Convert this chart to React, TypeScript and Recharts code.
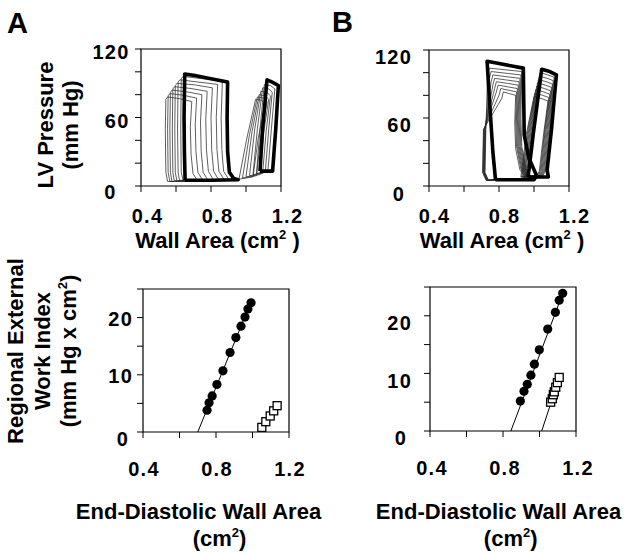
import React from 'react';
import { ComposedChart, Line, Scatter, XAxis, YAxis, ReferenceArea } from 'recharts';

type P = [number, number];

// ---------- axis ticks ----------
const areaTicks = [0.4, 0.6, 0.8, 1.0, 1.2];
const areaTickLabels = ['0.4', '', '0.8', '', '1.2'];
const pressureTicks = [0, 20, 40, 60, 80, 100, 120];
const pressureTickLabels = ['0', '', '', '60', '', '', '120'];
const workTicks = [0, 5, 10, 15, 20, 25];
const workTickLabels = ['0', '', '10', '', '20', ''];

// ---------- Panel A, pressure-area loops ----------
const loopA_left_bold: P[] = [[0.652,5],[0.648,30],[0.646,60],[0.650,98],[0.70,97],[0.80,94],[0.895,91],[0.892,60],[0.895,30],[0.905,12],[0.93,6.5],[0.955,5.5],[0.80,5],[0.652,5]];
const loopsA_left_thin: P[][] = [
  [[0.64,5],[0.630,12],[0.627,50],[0.630,94],[0.64,96],[0.75,94],[0.865,92],[0.858,60],[0.862,32],[0.872,13],[0.90,6],[0.64,5]],
  [[0.62,5],[0.612,12],[0.609,50],[0.612,91],[0.622,93],[0.73,91],[0.838,89],[0.830,60],[0.834,32],[0.845,13],[0.875,5.5],[0.62,5]],
  [[0.605,4.5],[0.596,12],[0.593,50],[0.596,88],[0.606,90],[0.71,88.5],[0.808,86],[0.800,60],[0.804,32],[0.815,13],[0.845,5],[0.605,4.5]],
  [[0.59,4.5],[0.582,12],[0.579,50],[0.582,85],[0.592,87],[0.68,85.5],[0.778,83],[0.770,58],[0.774,32],[0.785,13],[0.815,5],[0.59,4.5]],
  [[0.577,4],[0.568,12],[0.565,50],[0.568,82],[0.578,84],[0.66,82.5],[0.748,80],[0.740,56],[0.744,30],[0.755,12],[0.785,4.5],[0.577,4]],
  [[0.565,4],[0.555,12],[0.552,50],[0.555,79],[0.565,81],[0.64,79.5],[0.718,77],[0.710,54],[0.714,30],[0.725,12],[0.755,4.5],[0.565,4]],
  [[0.552,4],[0.542,12],[0.539,50],[0.542,76],[0.552,78],[0.62,76.5],[0.690,74],[0.682,52],[0.686,28],[0.697,11],[0.725,4],[0.552,4]],
];
const loopA_right_bold: P[] = [[1.08,13],[1.095,50],[1.12,93],[1.15,91],[1.185,88],[1.17,50],[1.152,13],[1.08,13]];
const loopsA_right_thin: P[][] = [
  [[1.06,11],[1.08,50],[1.105,89],[1.14,88],[1.165,85],[1.145,50],[1.125,13],[1.06,11]],
  [[1.04,10],[1.065,50],[1.095,86],[1.13,85],[1.15,82],[1.13,50],[1.11,12],[1.04,10]],
  [[1.02,9],[1.05,50],[1.085,83],[1.12,82],[1.14,79],[1.115,48],[1.095,11],[1.02,9]],
  [[1.00,8],[1.035,48],[1.075,80],[1.11,79],[1.13,76],[1.10,46],[1.08,10],[1.00,8]],
  [[0.98,7],[1.02,45],[1.065,78],[1.10,77],[1.12,74],[1.085,44],[1.06,9],[0.98,7]],
  [[0.96,6],[1.005,42],[1.055,76],[1.09,75],[1.11,72],[1.07,42],[1.04,8],[0.96,6]],
];

// ---------- Panel B, pressure-area loops ----------
const loopB_left_bold: P[] = [[0.78,5.5],[0.765,30],[0.748,70],[0.732,110],[0.80,108],[0.939,104],[0.942,70],[0.944,45],[0.97,25],[1.015,9],[1.0,5.5],[0.78,5.5]];
const loopsB_left_thin: P[][] = [
  [[0.74,5],[0.72,12],[0.725,50],[0.735,98],[0.745,104],[0.84,102.5],[0.93,101],[0.925,60],[0.93,35],[0.955,15],[0.99,7],[0.74,5]],
  [[0.738,5],[0.718,12],[0.723,50],[0.745,95],[0.755,101],[0.84,99.5],[0.925,98],[0.92,60],[0.925,35],[0.95,15],[0.985,7],[0.738,5]],
  [[0.736,5],[0.716,12],[0.721,50],[0.755,92],[0.765,98],[0.84,96.5],[0.92,95],[0.915,60],[0.92,35],[0.945,15],[0.98,7],[0.736,5]],
  [[0.734,5],[0.714,12],[0.719,50],[0.765,89],[0.775,95],[0.845,93.5],[0.915,92],[0.91,60],[0.915,35],[0.94,15],[0.975,7],[0.734,5]],
  [[0.732,5],[0.712,12],[0.717,50],[0.775,86],[0.785,92],[0.85,90.5],[0.91,89],[0.905,60],[0.91,35],[0.935,15],[0.97,7],[0.732,5]],
  [[0.73,5],[0.71,12],[0.715,50],[0.785,83],[0.795,89],[0.85,87.5],[0.905,86],[0.9,60],[0.905,35],[0.93,15],[0.965,7],[0.73,5]],
  [[0.728,5],[0.708,12],[0.713,50],[0.80,80],[0.81,86],[0.855,84.5],[0.9,83],[0.895,58],[0.9,35],[0.925,15],[0.96,7],[0.728,5]],
  [[0.726,5],[0.706,12],[0.711,50],[0.815,77],[0.825,83],[0.86,81.5],[0.895,80],[0.89,56],[0.895,33],[0.92,14],[0.955,7],[0.726,5]],
];
const loopB_right_bold: P[] = [[0.965,8],[0.972,15],[0.996,46],[1.044,103],[1.09,101],[1.128,98],[1.10,50],[1.075,14],[1.082,8],[0.965,8]];
const loopsB_right_thin: P[][] = [
  [[0.96,8],[0.99,45],[1.035,100],[1.08,98],[1.115,96],[1.09,50],[1.065,13],[1.05,9],[0.96,8]],
  [[0.955,8],[0.985,45],[1.03,97],[1.075,95],[1.11,93],[1.085,50],[1.06,13],[1.045,9],[0.955,8]],
  [[0.95,8],[0.98,45],[1.025,94],[1.07,92],[1.105,90],[1.08,50],[1.055,13],[1.04,9],[0.95,8]],
  [[0.945,8],[0.975,45],[1.02,91],[1.065,89],[1.10,87],[1.075,50],[1.05,13],[1.035,9],[0.945,8]],
  [[0.94,8],[0.97,45],[1.015,88],[1.06,86],[1.095,84],[1.07,50],[1.045,13],[1.03,9],[0.94,8]],
  [[0.935,8],[0.965,45],[1.01,85],[1.055,83],[1.09,81],[1.065,50],[1.04,13],[1.025,9],[0.935,8]],
  [[0.93,8],[0.96,45],[1.005,82],[1.05,80],[1.085,78],[1.06,48],[1.035,13],[1.02,9],[0.93,8]],
  [[0.925,8],[0.955,45],[1.0,79],[1.045,77],[1.08,75],[1.055,46],[1.03,13],[1.015,9],[0.925,8]],
];

// ---------- Regional external work index vs end-diastolic wall area ----------
const circlesA: P[] = [[0.751,3.8],[0.762,5.1],[0.779,6.3],[0.805,8.3],[0.838,10.7],[0.877,13.9],[0.909,16.5],[0.937,18.5],[0.959,20.1],[0.975,21.5],[0.992,22.6]];
const squaresA: P[] = [[1.051,0.8],[1.073,1.8],[1.097,2.8],[1.116,3.7],[1.135,4.6]];
const fitCirclesA: P[] = [[0.70,0],[0.995,23]];
const fitSquaresA: P[] = [[1.035,0],[1.135,4.6]];

const circlesB: P[] = [[0.895,5.2],[0.915,6.9],[0.933,8.1],[0.953,9.7],[0.972,11.6],[0.999,14.1],[1.045,17.7],[1.087,20.6],[1.108,22.7],[1.127,23.9]];
const squaresB: P[] = [[1.061,5.0],[1.070,5.6],[1.076,6.3],[1.081,6.8],[1.089,7.6],[1.098,8.4],[1.108,9.3]];
const fitCirclesB: P[] = [[0.843,0],[1.13,24.1]];
const fitSquaresB: P[] = [[1.012,0],[1.11,9.4]];

const toXY = (pts: P[]) => pts.map(([x, y]) => ({ x, y }));

const FONT = '"Liberation Sans", Arial, Helvetica, sans-serif';
const tickStyle: React.CSSProperties = { fontFamily: FONT, fontWeight: 700, fontSize: 20, letterSpacing: 1.2 };

const makeXTick = (dx: number) => (props: any) => {
  const { x, y, payload } = props;
  const i = areaTicks.indexOf(payload.value);
  const label = i >= 0 ? areaTickLabels[i] : '';
  return (
    <text x={x + dx} y={y} dy="0.71em" textAnchor="middle" fill="#000" style={tickStyle}>
      {label}
    </text>
  );
};

const makeYTick = (ticks: number[], labels: string[], dy: number, zeroDx: number, zeroDy: number) => (props: any) => {
  const { x, y, payload } = props;
  const i = ticks.indexOf(payload.value);
  const label = i >= 0 ? labels[i] : '';
  const isZero = payload.value === 0;
  return (
    <text x={x + (isZero ? zeroDx : 0)} y={y + (isZero ? zeroDy : dy)} dy="0.355em" textAnchor="end" fill="#000" style={tickStyle}>
      {label}
    </text>
  );
};

const thin = (loops: P[][], prefix: string) =>
  loops.map((l, i) => (
    <Line key={prefix + i} data={toXY(l)} dataKey="y" type="linear" stroke="#2a2a2a" strokeWidth={0.75} dot={false} isAnimationActive={false} />
  ));

const bold = (l: P[], key: string) => (
  <Line key={key} data={toXY(l)} dataKey="y" type="linear" stroke="#000" strokeWidth={3.6} strokeLinejoin="round" dot={false} isAnimationActive={false} />
);

const Circle = (p: any) => <circle cx={p.cx} cy={p.cy} r={4.6} fill="#000" />;
const Square = (p: any) => <rect x={p.cx - 4} y={p.cy - 4} width={8} height={8} fill="#fff" stroke="#000" strokeWidth={1.3} />;

type PanelProps = {
  left: number; top: number; width: number; height: number;
  margin: { top: number; right: number; bottom: number; left: number };
  yMax: number; yTicks: number[]; yLabels: string[];
  xDx: number; xTickMargin: number; yTickMargin: number; yDy: number; zeroDx: number; zeroDy: number;
  children: React.ReactNode;
};

const Panel = (p: PanelProps) => (
  <div style={{ position: 'absolute', left: p.left, top: p.top }}>
    <ComposedChart width={p.width} height={p.height} margin={p.margin}>
      <XAxis type="number" dataKey="x" domain={[0.4, 1.2]} ticks={areaTicks} interval={0} allowDataOverflow
        axisLine={false} tickLine={{ stroke: '#000', strokeWidth: 1 }} tickSize={6} tickMargin={p.xTickMargin}
        height={30} tick={makeXTick(p.xDx)} />
      <YAxis type="number" dataKey="y" domain={[0, p.yMax]} ticks={p.yTicks} interval={0} allowDataOverflow
        axisLine={false} tickLine={{ stroke: '#000', strokeWidth: 1 }} tickSize={6} tickMargin={p.yTickMargin}
        width={40} tick={makeYTick(p.yTicks, p.yLabels, p.yDy, p.zeroDx, p.zeroDy)} />
      <ReferenceArea x1={0.4} x2={1.2} y1={0} y2={p.yMax} fill="#fff" fillOpacity={0} stroke="#000" strokeWidth={1.2} />
      {p.children}
    </ComposedChart>
  </div>
);

const titleStyle: React.CSSProperties = { position: 'absolute', fontFamily: FONT, fontWeight: 700, fontSize: 22, color: '#000', whiteSpace: 'nowrap' };
const Sup = ({ children }: { children: React.ReactNode }) => (
  <span style={{ fontSize: 13, position: 'relative', top: -9 }}>{children}</span>
);
const Centered = ({ cx, cy, lh, rotate, children }: { cx: number; cy: number; lh: number; rotate?: boolean; children: React.ReactNode }) => (
  <div style={{ ...titleStyle, left: cx, top: cy, lineHeight: lh + 'px', textAlign: 'center',
    transform: 'translate(-50%, -50%)' + (rotate ? ' rotate(-90deg)' : '') }}>
    {children}
  </div>
);

export default function App() {
  return (
    <div style={{ position: 'absolute', left: 0, top: 0, width: 629, height: 555, background: '#fff', overflow: 'hidden' }}>
      {/* Panel A top */}
      <Panel left={0} top={0} width={310} height={260} margin={{ top: 49, right: 29, bottom: 44, left: 101 }}
        yMax={120} yTicks={pressureTicks} yLabels={pressureTickLabels}
        xDx={6.5} xTickMargin={17} yTickMargin={5.5} yDy={3} zeroDx={-13} zeroDy={5.5}>
        {thin(loopsA_left_thin, 'al')}
        {thin(loopsA_right_thin, 'ar')}
        {bold(loopA_left_bold, 'alb')}
        {bold(loopA_right_bold, 'arb')}
      </Panel>
      {/* Panel B top */}
      <Panel left={320} top={0} width={300} height={260} margin={{ top: 50, right: 51, bottom: 44, left: 69 }}
        yMax={120} yTicks={pressureTicks} yLabels={pressureTickLabels}
        xDx={5.5} xTickMargin={17} yTickMargin={11} yDy={6.5} zeroDx={-7} zeroDy={7.5}>
        {thin(loopsB_left_thin, 'bl')}
        {thin(loopsB_right_thin, 'br')}
        {bold(loopB_left_bold, 'blb')}
        {bold(loopB_right_bold, 'brb')}
      </Panel>
      {/* Panel A bottom */}
      <Panel left={0} top={260} width={310} height={295} margin={{ top: 29, right: 21, bottom: 93, left: 103 }}
        yMax={25} yTicks={workTicks} yLabels={workTickLabels}
        xDx={1} xTickMargin={24} yTickMargin={4} yDy={1.5} zeroDx={-4} zeroDy={6.5}>
        <Line data={toXY(fitCirclesA)} dataKey="y" type="linear" stroke="#000" strokeWidth={1} dot={false} isAnimationActive={false} />
        <Line data={toXY(fitSquaresA)} dataKey="y" type="linear" stroke="#000" strokeWidth={1} dot={false} isAnimationActive={false} />
        <Scatter data={toXY(circlesA)} dataKey="y" shape={Circle} isAnimationActive={false} />
        <Scatter data={toXY(squaresA)} dataKey="y" shape={Square} isAnimationActive={false} />
      </Panel>
      {/* Panel B bottom */}
      <Panel left={320} top={260} width={300} height={295} margin={{ top: 27, right: 44, bottom: 94, left: 70 }}
        yMax={25} yTicks={workTicks} yLabels={workTickLabels}
        xDx={2} xTickMargin={24} yTickMargin={12} yDy={7} zeroDx={-5} zeroDy={6.5}>
        <Line data={toXY(fitCirclesB)} dataKey="y" type="linear" stroke="#000" strokeWidth={1} dot={false} isAnimationActive={false} />
        <Line data={toXY(fitSquaresB)} dataKey="y" type="linear" stroke="#000" strokeWidth={1} dot={false} isAnimationActive={false} />
        <Scatter data={toXY(circlesB)} dataKey="y" shape={Circle} isAnimationActive={false} />
        <Scatter data={toXY(squaresB)} dataKey="y" shape={Square} isAnimationActive={false} />
      </Panel>

      {/* Panel letters */}
      <div style={{ ...titleStyle, left: 7, top: 9, fontSize: 29, lineHeight: '29px' }}>A</div>
      <div style={{ ...titleStyle, left: 332, top: 8, fontSize: 29, lineHeight: '29px' }}>B</div>

      {/* Axis titles */}
      <Centered cx={58} cy={125} lh={25} rotate>
        LV Pressure<br />(mm Hg)
      </Centered>
      <Centered cx={217.5} cy={242} lh={20}>
        Wall Area (cm<Sup>2</Sup>&nbsp;)
      </Centered>
      <Centered cx={502} cy={242} lh={20}>
        Wall Area (cm<Sup>2</Sup>&nbsp;)
      </Centered>
      <Centered cx={43.5} cy={351} lh={26.5} rotate>
        Regional External<br />Work Index<br />(mm Hg x cm<Sup>2</Sup>)
      </Centered>
      <Centered cx={198.5} cy={511.5} lh={24}>End-Diastolic Wall Area</Centered>
      <Centered cx={219.5} cy={540} lh={24}>(cm<Sup>2</Sup>)</Centered>
      <Centered cx={498.5} cy={511.5} lh={24}>End-Diastolic Wall Area</Centered>
      <Centered cx={510.7} cy={540} lh={24}>(cm<Sup>2</Sup>)</Centered>
    </div>
  );
}
